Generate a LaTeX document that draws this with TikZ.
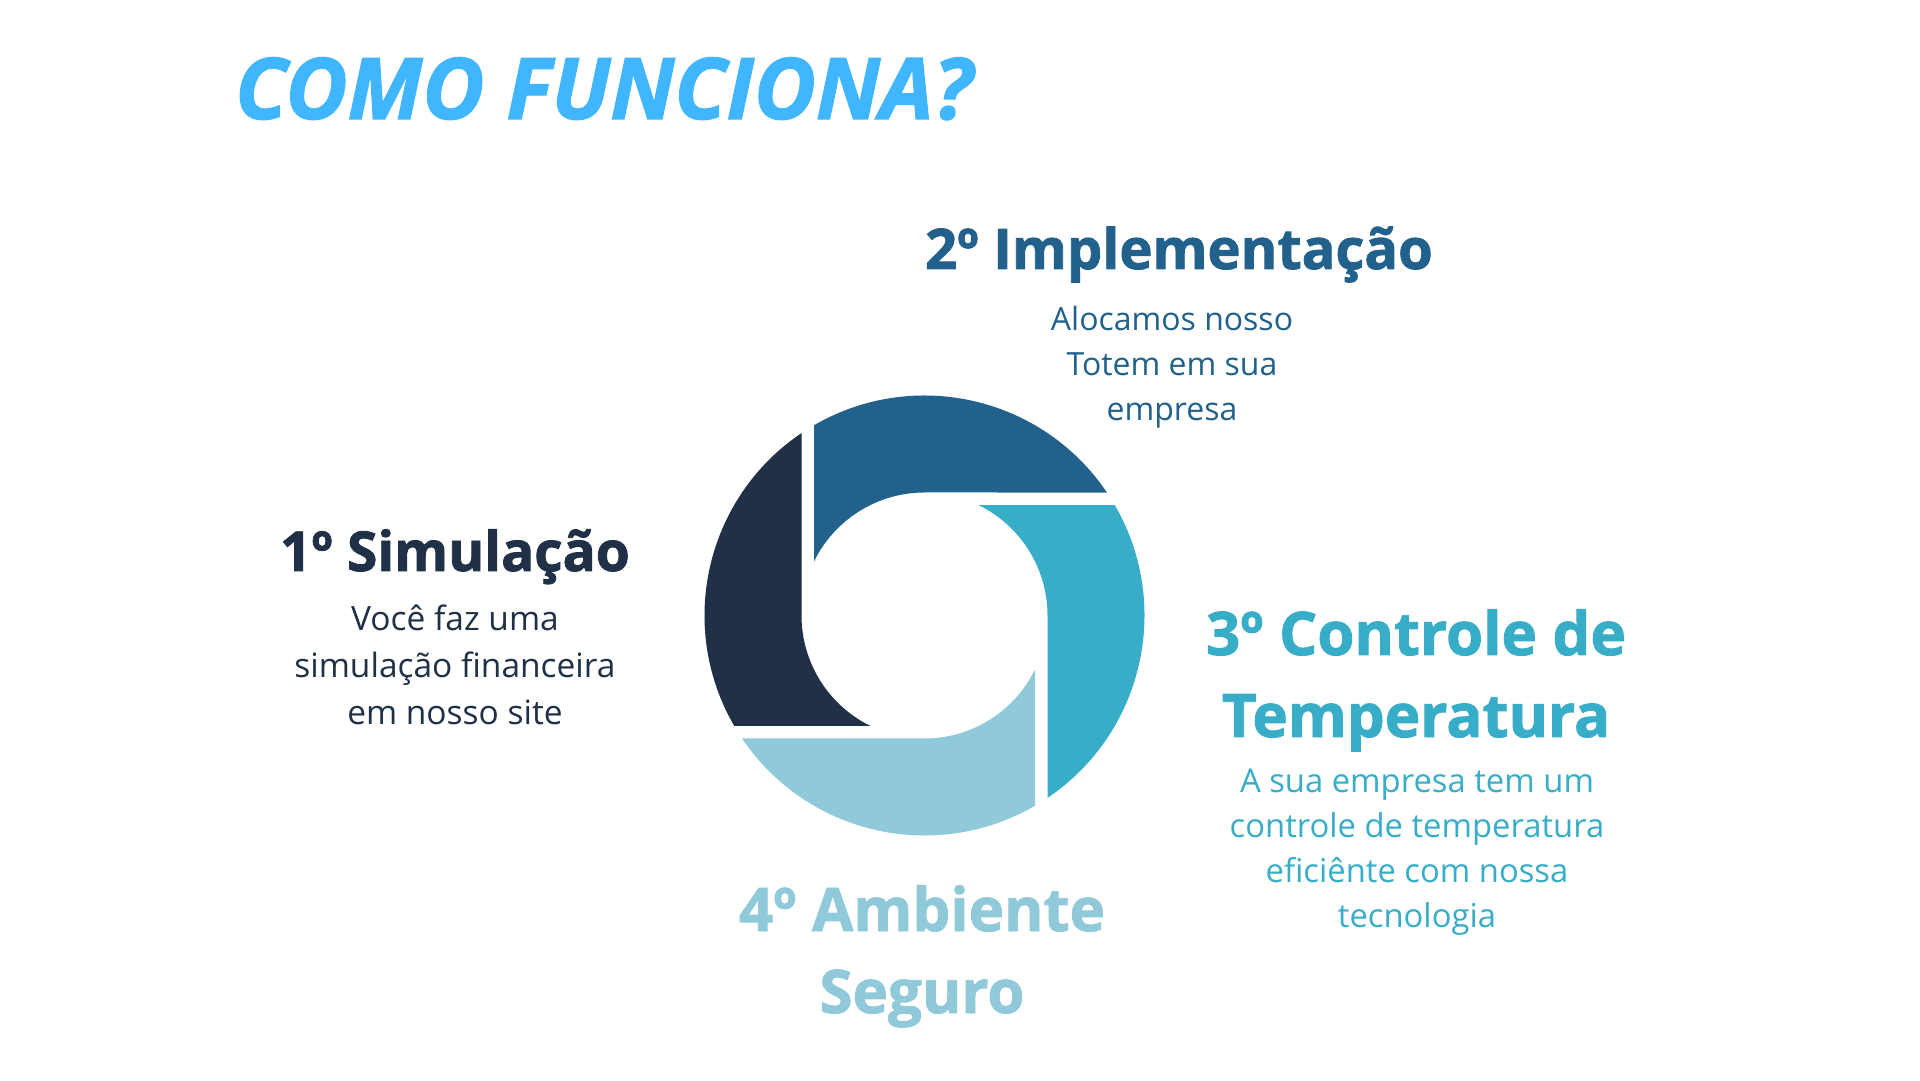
\documentclass[tikz,border=0pt]{standalone}
\usepackage{fontspec}
\setmainfont{Open Sans}
\newfontfamily\heavyfont{Open Sans}[BoldFeatures={FakeBold=1.5}, BoldItalicFeatures={FakeBold=1.5}]

\definecolor{titleblue}{HTML}{3FB6FF}
\definecolor{stepone}{HTML}{1F3047}
\definecolor{steptwo}{HTML}{21618C}
\definecolor{stepthree}{HTML}{37ADC8}
\definecolor{stepfour}{HTML}{90C9D9}

\tikzset{
  heading/.style={font=\fontsize{60}{82}\selectfont\heavyfont\bfseries, align=center, inner sep=0pt},
  bodytext/.style={font=\fontsize{32}{45}\selectfont, align=center, inner sep=0pt},
}

\begin{document}
\begin{tikzpicture}[x=1pt,y=1pt]

% Canvas
\fill[white] (0,0) rectangle (1920,1080);
\useasboundingbox (0,0) rectangle (1920,1080);

% Title
\node[font=\fontsize{85}{100}\selectfont\heavyfont\bfseries\itshape, text=titleblue, inner sep=0pt, anchor=base west] (title) at (235,961) {COMO FUNCIONA?};

% Ring (four blades)
\pgfmathsetmacro{\Ro}{220}
\pgfmathsetmacro{\ri}{123}
\pgfmathsetmacro{\rg}{110.5}
\pgfmathsetmacro{\ao}{asin(\ri/\Ro)}
\pgfmathsetmacro{\bo}{acos(-\rg/\Ro)}
\pgfmathsetmacro{\ai}{acos(-\rg/\ri)}
\foreach \ang/\col in {0/steptwo, 90/stepone, 180/stepfour, 270/stepthree}{
  \fill[\col, shift={(924.5,464.5)}, rotate=\ang]
    (90:\ri pt) -- (\ao:\Ro pt) arc[start angle=\ao, end angle=\bo, radius=\Ro pt]
    -- (\ai:\ri pt) arc[start angle=\ai, end angle=90, radius=\ri pt] -- cycle;
}

% Step 1 (base = last line)
\node[heading, text=stepone, anchor=base, font=\fontsize{55}{82}\selectfont\heavyfont\bfseries] (simhead) at (455,509) {1º Simulação};
\node[bodytext, text=stepone, anchor=base, font=\fontsize{33.5}{47}\selectfont] (simtext) at (455,355) {Você faz uma\\simulação financeira\\em nosso site};

% Step 2
\node[heading, text=steptwo, anchor=base, font=\fontsize{56}{82}\selectfont\heavyfont\bfseries] (imphead) at (1179,811) {2º Implementação};
\node[bodytext, text=steptwo, anchor=base] (imptext) at (1172,659) {Alocamos nosso\\Totem em sua\\empresa};

% Step 3
\node[heading, text=stepthree, anchor=base] (ctrlhead) at (1416,343) {3º Controle de\\Temperatura};
\node[bodytext, text=stepthree, anchor=base, font=\fontsize{32.8}{45}\selectfont] (ctrltext) at (1417,153) {A sua empresa tem um\\controle de temperatura\\eficiênte com nossa\\tecnologia};

% Step 4
\node[heading, text=stepfour, anchor=base] (envhead) at (922,67) {4º Ambiente\\Seguro};

\end{tikzpicture}
\end{document}
